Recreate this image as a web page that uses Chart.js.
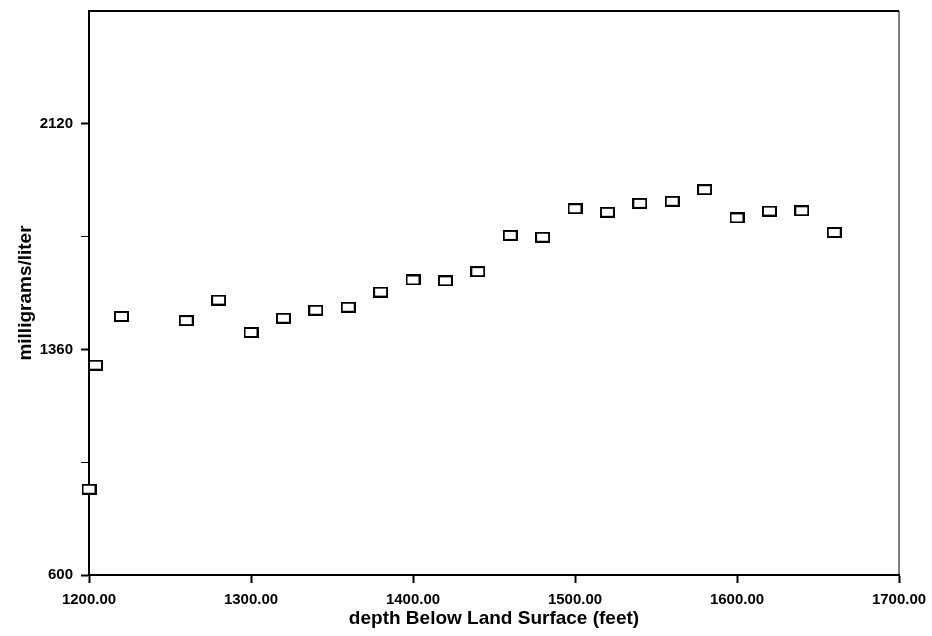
<!DOCTYPE html>
<html>
<head>
<meta charset="utf-8">
<script src="https://cdn.jsdelivr.net/npm/chart.js@4"></script>
<style>
  html, body { margin: 0; padding: 0; background: #fff; }
  #wrap { width: 932px; height: 636px; }
</style>
</head>
<body>
<div id="wrap"><canvas id="chart"></canvas></div>
<script>
// Depth (feet) and concentration (mg/l)
const depthFeet = [1200, 1204, 1220, 1260, 1280, 1300, 1320, 1340, 1360, 1380, 1400, 1420,
                   1440, 1460, 1480, 1500, 1520, 1540, 1560, 1580, 1600, 1620, 1640, 1660];
const mgPerLiter = [889, 1307, 1471, 1457, 1526, 1417, 1465, 1492, 1502, 1553, 1594, 1591,
                    1622, 1744, 1738, 1834, 1822, 1852, 1859, 1898, 1803, 1826, 1827, 1754];

// Axis ticks
const yTickLabels = [600, 1360, 2120];
const yMinorTicks = [980, 1740];
const xTickStep = 100;

const fontFamily = '"Liberation Sans", Arial, Helvetica, sans-serif';

// Open rectangle marker like the original plot
function makeMarker() {
    const c = document.createElement('canvas');
    c.width = 15;
    c.height = 11;
    const g = c.getContext('2d');
    g.fillStyle = '#fff';
    g.fillRect(1, 1, 13, 9);
    g.strokeStyle = '#000';
    g.lineWidth = 2;
    g.strokeRect(1, 1, 13, 9);
    return c;
}

// Top and right edges of the frame
const framePlugin = {
    id: 'frame',
    afterDraw(chart) {
        const { ctx, chartArea: a } = chart;
        ctx.save();
        ctx.strokeStyle = '#000';
        ctx.lineWidth = 2;
        ctx.beginPath();
        ctx.moveTo(a.left, a.top);
        ctx.lineTo(a.right, a.top);
        ctx.stroke();
        ctx.lineWidth = 1;
        ctx.beginPath();
        ctx.moveTo(a.right, a.top);
        ctx.lineTo(a.right, a.bottom);
        ctx.stroke();
        ctx.restore();
    }
};

const points = depthFeet.map((d, i) => ({ x: d, y: mgPerLiter[i] }));

new Chart(document.getElementById('chart').getContext('2d'), {
    type: 'scatter',
    data: {
        datasets: [{
            data: points,
            pointStyle: makeMarker(),
            pointRadius: 6,
            pointHoverRadius: 6,
            showLine: false,
            clip: false
        }]
    },
    options: {
        responsive: true,
        maintainAspectRatio: false,
        animation: false,
        events: [],
        layout: { padding: { top: 11, right: 33, bottom: 0, left: 0 } },
        plugins: {
            legend: { display: false },
            tooltip: { enabled: false }
        },
        scales: {
            x: {
                type: 'linear',
                min: 1200,
                max: 1700,
                afterFit(scale) {
                    scale.height = 61;
                    scale.paddingLeft = 0;
                    scale.paddingRight = 0;
                },
                border: { display: true, color: '#000', width: 2 },
                grid: { drawOnChartArea: false, drawTicks: true, tickLength: 8, tickColor: '#000', tickWidth: 2 },
                ticks: {
                    stepSize: xTickStep,
                    padding: 8,
                    color: '#000',
                    maxRotation: 0,
                    font: { family: fontFamily, size: 15, weight: 'bold' },
                    callback: v => v.toFixed(2)
                },
                title: {
                    display: true,
                    text: 'depth Below Land Surface (feet)',
                    color: '#000',
                    padding: { top: 0, bottom: 6 },
                    font: { family: fontFamily, size: 19, weight: 'bold' }
                }
            },
            y: {
                type: 'linear',
                min: 600,
                max: 2500,
                afterFit(scale) {
                    scale.width = 89;
                    scale.paddingTop = 0;
                    scale.paddingBottom = 0;
                },
                afterBuildTicks(axis) {
                    axis.ticks = yTickLabels.concat(yMinorTicks)
                        .sort((a, b) => a - b)
                        .map(v => ({ value: v }));
                },
                border: { display: true, color: '#000', width: 2 },
                grid: {
                    drawOnChartArea: false,
                    drawTicks: true,
                    tickLength: 8,
                    tickColor: '#000',
                    tickWidth: ctx => (ctx.tick && yTickLabels.includes(ctx.tick.value)) ? 2 : 1
                },
                ticks: {
                    padding: 8,
                    color: '#000',
                    font: { family: fontFamily, size: 15, weight: 'bold' },
                    callback: v => yTickLabels.includes(v) ? String(v) : ''
                },
                title: {
                    display: true,
                    text: 'milligrams/liter',
                    color: '#000',
                    padding: { top: 14, bottom: 0 },
                    font: { family: fontFamily, size: 19, weight: 'bold' }
                }
            }
        }
    },
    plugins: [framePlugin]
});
</script>
</body>
</html>
